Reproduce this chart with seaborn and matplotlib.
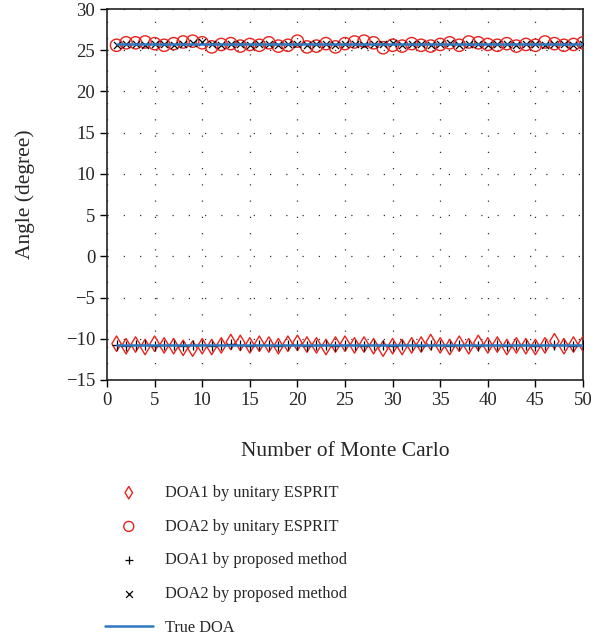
import numpy as np
import pandas as pd
import seaborn as sns
import matplotlib
matplotlib.use("Agg")
import matplotlib.pyplot as plt
from matplotlib.collections import PathCollection

# Monte Carlo trials
trials = list(range(1, 51))

# true directions of arrival (degree)
true_doa1 = -10.8
true_doa2 = 25.7

# DOA1 estimates by unitary ESPRIT (diamonds)
doa1_esprit = [-10.6, -10.9, -10.7, -11.0, -10.6, -10.8, -10.9, -11.1, -11.2, -10.9,
               -11.0, -10.8, -10.4, -10.5, -10.8, -10.6, -10.7, -10.9, -10.6, -10.5,
               -10.7, -10.8, -11.0, -10.7, -10.6, -10.8, -10.7, -10.9, -11.2, -10.9,
               -11.0, -10.8, -10.7, -10.4, -10.8, -11.0, -10.6, -10.9, -10.5, -10.8,
               -10.7, -11.0, -10.8, -10.9, -11.0, -10.8, -10.3, -10.9, -10.7, -10.6]
# DOA2 estimates by unitary ESPRIT (circles)
doa2_esprit = [25.6, 25.9, 25.9, 26.0, 25.8, 25.6, 25.8, 26.0, 26.1, 25.9,
               25.4, 25.7, 25.8, 25.5, 25.7, 25.6, 25.9, 25.5, 25.6, 26.1,
               25.4, 25.5, 25.8, 25.4, 25.8, 26.0, 26.1, 25.9, 25.3, 25.6,
               25.5, 25.8, 25.6, 25.5, 25.7, 25.9, 25.6, 26.0, 25.9, 25.7,
               25.6, 25.8, 25.5, 25.7, 25.6, 26.0, 25.8, 25.6, 25.7, 25.9]
# DOA1 estimates by proposed method (+)
doa1_prop = [-10.7, -10.9, -10.8, -10.7, -10.9, -10.8, -10.7, -10.9, -10.8, -10.7,
             -10.9, -10.8, -10.6, -10.8, -10.9, -10.7, -10.8, -10.9, -10.7, -10.8,
             -10.9, -10.7, -10.8, -10.9, -10.8, -10.7, -10.9, -10.8, -10.7, -10.9,
             -10.8, -10.7, -10.9, -10.8, -10.7, -10.9, -10.8, -10.7, -10.9, -10.8,
             -10.7, -10.9, -10.8, -10.7, -10.9, -10.8, -10.7, -10.8, -10.9, -10.7]
# DOA2 estimates by proposed method (x)
doa2_prop = [25.6, 25.8, 25.7, 25.6, 25.8, 25.7, 25.6, 25.8, 25.9, 26.0,
             25.7, 25.6, 25.8, 25.7, 25.6, 25.8, 25.7, 25.6, 25.8, 25.7,
             25.6, 25.8, 25.7, 25.6, 25.8, 25.7, 25.6, 25.8, 25.7, 25.9,
             25.6, 25.8, 25.7, 25.6, 25.8, 25.9, 25.6, 25.8, 25.7, 25.6,
             25.8, 25.7, 25.6, 25.8, 25.7, 25.6, 25.8, 25.7, 25.6, 25.8]

sns.set_style("ticks")
plt.rcParams["font.family"] = ["Liberation Serif", "DejaVu Serif"]

fig = plt.figure(figsize=(6.03, 6.43), dpi=100)
ax = fig.add_axes([107 / 603, 1 - 380 / 643, 476 / 603, 371 / 643])

red = "#e8231e"
blue = "#2e78c2"

sns.scatterplot(x=trials, y=doa1_esprit, marker="d", s=62, fc="none", ec=red,
                linewidth=1.0, ax=ax, label="DOA1 by unitary ESPRIT", zorder=3)
sns.scatterplot(x=trials, y=doa2_esprit, marker="o", s=78, fc="none", ec=red,
                linewidth=1.0, ax=ax, label="DOA2 by unitary ESPRIT", zorder=3)
sns.scatterplot(x=trials, y=doa1_prop, marker="+", s=42, color="black",
                linewidth=0.9, ax=ax, label="DOA1 by proposed method", zorder=4)
sns.scatterplot(x=trials, y=doa2_prop, marker="x", s=26, color="black",
                linewidth=0.9, ax=ax, label="DOA2 by proposed method", zorder=4)

truth = pd.DataFrame({"trial": trials * 2,
                      "doa": [true_doa1] * 50 + [true_doa2] * 50,
                      "src": ["1"] * 50 + ["2"] * 50})
sns.lineplot(data=truth, x="trial", y="doa", units="src", estimator=None,
             color=blue, linewidth=1.8, ax=ax, label="True DOA", zorder=5)

ax.set_xlim(0, 50)
ax.set_ylim(-15, 30)
ax.set_xticks(np.arange(0, 51, 5))
ax.set_yticks(np.arange(-15, 31, 5))
ax.tick_params(labelsize=13.5, direction="out", length=5, width=1, color="black")
for sp in ax.spines.values():
    sp.set_visible(True)
    sp.set_color("#222222")
    sp.set_linewidth(1.2)
ax.grid(True, color="#333333", linestyle=(0, (1, 12)), linewidth=0.9)
ax.set_xlabel("Number of Monte Carlo", fontsize=15.5, labelpad=24)
ax.set_ylabel("Angle (degree)", fontsize=15.5, labelpad=22)

handles, labels = ax.get_legend_handles_labels()
ax.get_legend().remove()
leg = fig.legend(handles, labels, loc="upper left",
                 bbox_to_anchor=(105 / 603, 1 - 485 / 643), frameon=False,
                 fontsize=11.8, handlelength=2.9, handletextpad=0.75,
                 labelspacing=1.08, borderpad=0, borderaxespad=0)
# legend markers a bit smaller than in the plot
for h, sz in zip(leg.legend_handles, [40, 52, 40, 24]):
    if isinstance(h, PathCollection):
        h.set_sizes([sz])

fig.savefig("out.png", dpi=100)
